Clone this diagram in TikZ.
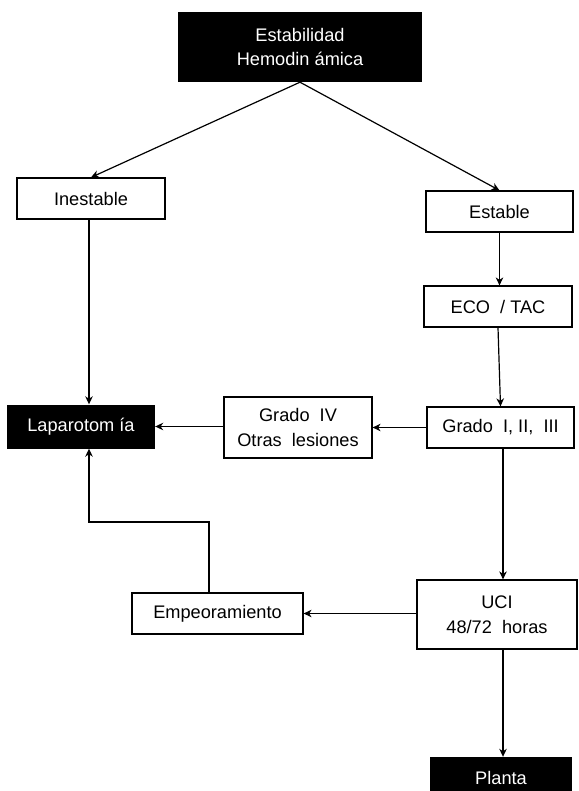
\documentclass[tikz,border=0pt]{standalone}
\usepackage{fontspec}
\setmainfont{Liberation Sans}
\usetikzlibrary{arrows.meta}

\begin{document}
\begin{tikzpicture}[x=1pt,y=-1pt,
						whitebox/.style={draw,line width=1.2pt,fill=white,inner sep=0pt,align=center,font=\fontsize{18.2}{24.5}\selectfont},
						blackbox/.style={fill=black,text=white,inner sep=0pt,align=center,font=\fontsize{18.2}{24.5}\selectfont},
						arr/.style={-{Stealth[length=8pt,width=7.5pt,inset=2.5pt]},line width=1.2pt}]
		\useasboundingbox[fill=white] (0,0) rectangle (578,791);
		\clip (0,0) rectangle (578,791);
		\node[blackbox,minimum width=244pt,minimum height=70pt]	(0)	at (300,47)		{Estabilidad\\Hemodin ámica};
		\node[whitebox,minimum width=148pt,minimum height=41pt]	(1)	at (91,198.5)	{Inestable};
		\node[whitebox,minimum width=147pt,minimum height=41pt]	(2)	at (499.5,211.5)	{Estable};
		\node[whitebox,minimum width=148pt,minimum height=41pt]	(3)	at (498,306.5)	{ECO~ / TAC};
		\node[whitebox,minimum width=147pt,minimum height=41pt]	(4)	at (500.5,427.5)	{Grado~ I, II,~ III};
		\node[whitebox,minimum width=148pt,minimum height=61pt]	(5)	at (298,427.5)	{Grado~ IV\\Otras~ lesiones};
		\node[blackbox,minimum width=148pt,minimum height=44pt]	(6)	at (81,426.5)	{Laparotom ía};
		\node[whitebox,minimum width=160pt,minimum height=69pt]	(7)	at (497,614.5)	{UCI\\48/72~ horas};
		\node[whitebox,minimum width=171pt,minimum height=41pt]	(8)	at (217.5,613.5)	{Empeoramiento};
		\node[blackbox,minimum width=142pt,minimum height=42pt]	(9)	at (501,778)		{Planta};
		\coordinate (10) at (89,522);

		\draw[arr] (0.south) -- (1.north);
		\draw[arr] (0.south) -- (2.north);
		\draw[arr] (10 |- 1.south) -- (10 |- 6.north);
		\draw[arr] (2.south) -- (2.south |- 3.north);
		\draw[arr] (3.south) -- (4.north);
		\draw[arr] (4.west) -- (4.west -| 5.east);
		\draw[arr] (5.west |- 6.east) -- (6.east);
		\draw[arr] ([xshift=2.5pt]4.south) -- ([xshift=2.5pt]4.south |- 7.north);
		\draw[arr] ([xshift=2.5pt]4.south |- 7.south) -- ([xshift=2.5pt]4.south |- 9.north);
		\draw[arr] (7.west |- 8.east) -- (8.east);
		\draw[arr] ([xshift=-8.5pt]8.north) |- (10) -- (10 |- 6.south);
	\end{tikzpicture}
\end{document}
